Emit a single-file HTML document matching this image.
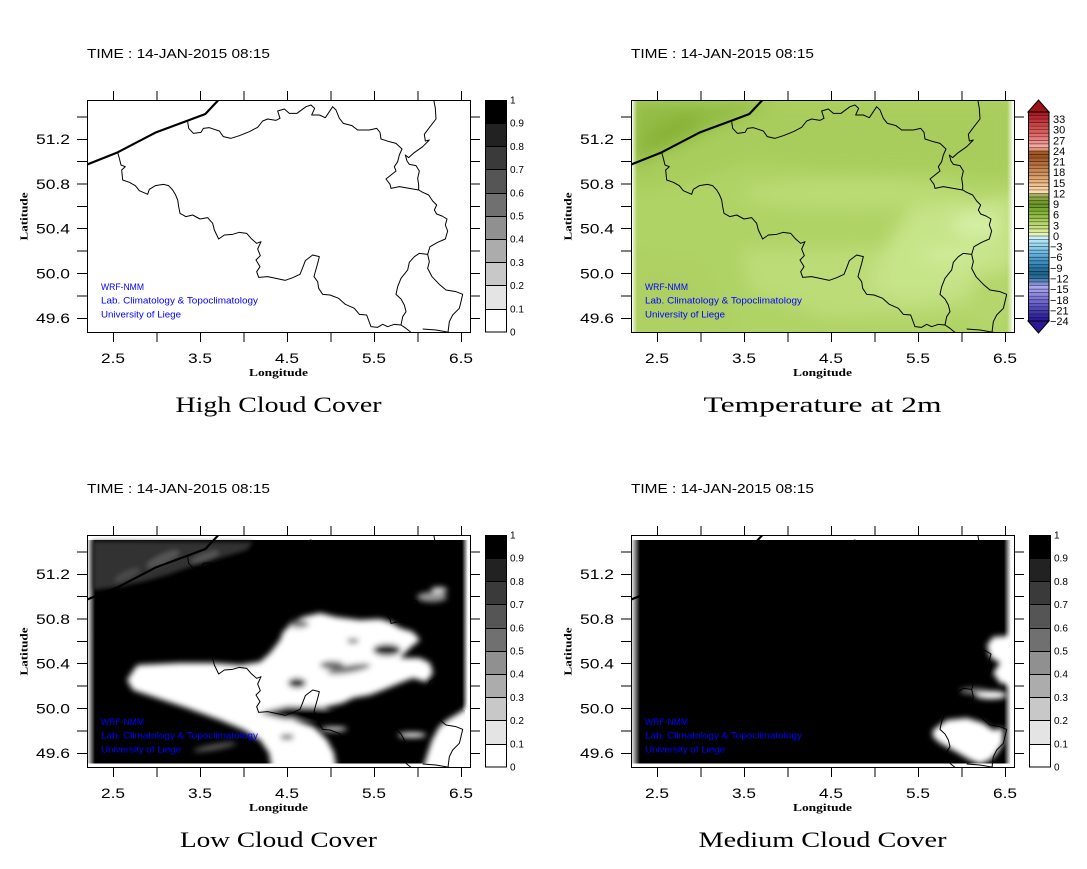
<!DOCTYPE html>
<html><head><meta charset="utf-8"><style>
html,body{margin:0;padding:0;background:#fff;}
svg{display:block;}
text{font-family:"Liberation Sans",sans-serif;fill:#000;}
.ser{font-family:"Liberation Serif",serif;}
.blue{fill:#0000ff;font-size:9.5px;}
</style></head><body>
<svg width="1087" height="869" viewBox="0 0 1087 869" xmlns="http://www.w3.org/2000/svg">
<defs>
<clipPath id="pc"><rect x="0" y="0" width="383" height="232"/></clipPath>
<filter id="b2" x="-30%" y="-30%" width="160%" height="160%"><feGaussianBlur stdDeviation="2"/></filter>
<filter id="b3" x="-30%" y="-30%" width="160%" height="160%"><feGaussianBlur stdDeviation="3"/></filter>
<filter id="b8" x="-30%" y="-30%" width="160%" height="160%"><feGaussianBlur stdDeviation="8"/></filter>
<linearGradient id="lgL" x1="0" x2="1" y1="0" y2="0"><stop offset="0" stop-color="#fff"/><stop offset="1" stop-color="#000"/></linearGradient>
<linearGradient id="lgR" x1="0" x2="1" y1="0" y2="0"><stop offset="0" stop-color="#000"/><stop offset="1" stop-color="#fff"/></linearGradient>
<linearGradient id="lgW" x1="0" x2="1" y1="0" y2="0"><stop offset="0" stop-color="#fff" stop-opacity="1"/><stop offset="1" stop-color="#fff" stop-opacity="0"/></linearGradient>
<linearGradient id="lgW2" x1="0" x2="1" y1="0" y2="0"><stop offset="0" stop-color="#fff" stop-opacity="0"/><stop offset="1" stop-color="#fff" stop-opacity="1"/></linearGradient>

<g id="borders" transform="translate(-11,-5) scale(0.333333)" fill="none" stroke="#000" stroke-linejoin="round">
<path stroke-width="6.5" d="M20,214 L125,172 L240,112 L340,75 L388,57 L434,8"/>
<path stroke-width="3" d="M125,172 L130,190 L135,210 L148,215 L137,225 L140,255 L160,262 L178,272 L190,287 L215,298 L220,283 L238,272 L262,268 L278,272 L290,285 L298,298 L305,315 L308,335 L312,355 L330,365 L350,360 L372,372 L395,368 L410,385 L415,405 L428,432 L445,420 L470,418 L490,412 L512,415 L525,430 L542,445 L555,440 L545,462 L553,482 L540,495 L552,515 L542,530 L548,547 L575,545 L600,550 L628,556 L650,548 L672,538 L680,518 L688,497 L710,480 L730,485 L725,505 L718,530 L714,545 L725,560 L728,580 L740,598 L762,600 L788,610 L808,628 L835,640 L850,658 L872,660 L885,695 L905,697 L920,688 L935,695 L955,688 L975,690 L990,700 L1005,712 L1010,722"/>
<path stroke-width="3" d="M975,690 L980,665 L990,650 L985,630 L975,612 L960,598 L965,575 L975,550 L995,525 L1000,502 L1015,485 L1030,475 L1055,478"/>
<path stroke-width="3" d="M1055,478 L1060,500 L1055,520 L1068,545 L1090,568 L1110,585 L1140,590 L1160,598 L1155,620 L1150,640 L1130,660 L1120,680 L1115,720"/>
<path stroke-width="3" d="M1040,702 L1080,705 L1120,712"/>
<path stroke-width="3" d="M1055,478 L1062,455 L1085,442 L1108,432 L1115,408 L1108,390 L1113,372 L1098,363 L1082,357 L1075,345 L1082,330 L1070,318 L1058,300 L1040,292 L1028,285"/>
<path stroke-width="3" d="M335,80 L338,100 L352,115 L375,112 L382,100 L400,98 L430,108 L442,125 L465,130 L490,122 L520,110 L545,97 L560,78 L575,72 L600,76 L612,70 L605,48 L625,42 L640,55 L663,55 L690,35 L705,30 L716,40 L707,60 L730,60 L748,68 L770,35 L780,45 L790,70 L802,85 L828,92 L845,105 L880,105 L902,100 L912,112 L915,132 L940,140 L960,145 L978,162 L970,180 L965,200 L955,215 L960,228 L945,240 L930,252 L942,268 L945,280 L970,275 L1000,280 L1028,285"/>
<path stroke-width="3" d="M1072,8 L1078,40 L1080,72 L1062,95 L1045,118 L1048,138 L1060,135 L1040,155 L1012,175 L998,188 L988,180 L993,198 L1000,208 L1020,212 L1030,228 L1025,250 L1028,270 L1028,285"/>
</g>

<path id="ticks" fill="none" stroke="#000" stroke-width="1" shape-rendering="crispEdges" d="M26.5,0V-9 M70,0V-9 M113.5,0V-9 M157,0V-9 M200.5,0V-9 M244,0V-9 M287.5,0V-9 M331,0V-9 M374.5,0V-9 M26.5,232V242 M70,232V242 M113.5,232V242 M157,232V242 M200.5,232V242 M244,232V242 M287.5,232V242 M331,232V242 M374.5,232V242 M0,17H-10 M0,39.5H-10 M0,61.5H-10 M0,84H-10 M0,106.5H-10 M0,128.5H-10 M0,151H-10 M0,173.5H-10 M0,196H-10 M0,218.5H-10 M383,17H393 M383,39.5H393 M383,61.5H393 M383,84H393 M383,106.5H393 M383,128.5H393 M383,151H393 M383,173.5H393 M383,196H393 M383,218.5H393"/>

<g id="gcb" shape-rendering="crispEdges">
<rect x="485" y="100" width="22" height="23.5" fill="#000"/>
<rect x="485" y="123.2" width="22" height="23.5" fill="#222"/>
<rect x="485" y="146.4" width="22" height="23.5" fill="#3a3a3a"/>
<rect x="485" y="169.6" width="22" height="23.5" fill="#555"/>
<rect x="485" y="192.8" width="22" height="23.5" fill="#707070"/>
<rect x="485" y="216" width="22" height="23.5" fill="#909090"/>
<rect x="485" y="239.2" width="22" height="23.5" fill="#acacac"/>
<rect x="485" y="262.4" width="22" height="23.5" fill="#c8c8c8"/>
<rect x="485" y="285.6" width="22" height="23.5" fill="#e4e4e4"/>
<rect x="485" y="308.8" width="22" height="23.2" fill="#fff"/>
<path fill="none" stroke="#000" stroke-width="1" d="M485,123.5H507 M485,146.5H507 M485,169.5H507 M485,193.5H507 M485,216.5H507 M485,239.5H507 M485,262.5H507 M485,285.5H507 M485,309.5H507"/>
<rect x="485.5" y="100.5" width="21" height="231.5" fill="none" stroke="#000" stroke-width="1"/>
</g>
</defs>

<!-- ================= PANEL 1 ================= -->
<g>
<text x="87" y="58" font-size="12.5" textLength="183" lengthAdjust="spacingAndGlyphs">TIME : 14-JAN-2015 08:15</text>
<g transform="translate(87,100)">
  <g clip-path="url(#pc)">
    <rect x="0" y="0" width="383" height="232" fill="#fff"/>
    <use href="#borders"/>
  </g>
  <rect x="0.5" y="0.5" width="383" height="232" fill="none" stroke="#000" stroke-width="1" shape-rendering="crispEdges"/>
  <use href="#ticks"/>
</g>
<text class="blue" x="101" y="290" textLength="43" lengthAdjust="spacingAndGlyphs">WRF-NMM</text>
<text class="blue" x="101" y="303.5" textLength="157" lengthAdjust="spacingAndGlyphs">Lab. Climatology &amp; Topoclimatology</text>
<text class="blue" x="101" y="317.5" textLength="80" lengthAdjust="spacingAndGlyphs">University of Liege</text>
<use href="#gcb"/>
<g font-size="10">
<text x="510" y="103.5">1</text><text x="510" y="126.7">0.9</text><text x="510" y="149.9">0.8</text><text x="510" y="173.1">0.7</text><text x="510" y="196.3">0.6</text><text x="510" y="219.5">0.5</text><text x="510" y="242.7">0.4</text><text x="510" y="265.9">0.3</text><text x="510" y="289.1">0.2</text><text x="510" y="312.3">0.1</text><text x="510" y="335.5">0</text>
</g>
<g font-size="14" text-anchor="middle">
<text x="113" y="363" textLength="24" lengthAdjust="spacingAndGlyphs">2.5</text>
<text x="200" y="363" textLength="24" lengthAdjust="spacingAndGlyphs">3.5</text>
<text x="287" y="363" textLength="24" lengthAdjust="spacingAndGlyphs">4.5</text>
<text x="374" y="363" textLength="24" lengthAdjust="spacingAndGlyphs">5.5</text>
<text x="461" y="363" textLength="24" lengthAdjust="spacingAndGlyphs">6.5</text>
</g>
<g font-size="14" text-anchor="end">
<text x="70" y="144" textLength="34" lengthAdjust="spacingAndGlyphs">51.2</text>
<text x="70" y="189" textLength="34" lengthAdjust="spacingAndGlyphs">50.8</text>
<text x="70" y="233.5" textLength="34" lengthAdjust="spacingAndGlyphs">50.4</text>
<text x="70" y="278.5" textLength="34" lengthAdjust="spacingAndGlyphs">50.0</text>
<text x="70" y="323" textLength="34" lengthAdjust="spacingAndGlyphs">49.6</text>
</g>
<text class="ser" transform="translate(27.5,216.5) rotate(-90)" x="0" y="0" font-size="10.5" font-weight="bold" text-anchor="middle" textLength="48" lengthAdjust="spacingAndGlyphs">Latitude</text>
<text class="ser" x="278.5" y="376" font-size="10.5" font-weight="bold" text-anchor="middle" textLength="59" lengthAdjust="spacingAndGlyphs">Longitude</text>
<text class="ser" x="278.5" y="412" font-size="22" text-anchor="middle" textLength="206" lengthAdjust="spacingAndGlyphs">High Cloud Cover</text>
</g>

<!-- ================= PANEL 2 ================= -->
<g transform="translate(544,0)">
<text x="87" y="58" font-size="12.5" textLength="183" lengthAdjust="spacingAndGlyphs">TIME : 14-JAN-2015 08:15</text>
<g transform="translate(87,100)">
  <g clip-path="url(#pc)">
    <rect x="0" y="0" width="383" height="232" fill="#fff"/>
    <rect x="2" y="1" width="379" height="231" fill="#b0d366"/>
    <g filter="url(#b8)">
      <path d="M0,0 L383,0 L383,78 L300,72 L200,70 L120,62 L60,82 L0,92 Z" fill="#a9cd5b"/>
      <path d="M0,0 L145,0 L100,22 L50,44 L0,70 Z" fill="#93bc44"/>
      <ellipse cx="40" cy="32" rx="34" ry="10" transform="rotate(-28 40 32)" fill="#86b236"/>
      <ellipse cx="225" cy="94" rx="115" ry="15" fill="#badb74"/>
      <path d="M110,150 L250,148 L330,160 L383,150 L383,200 L300,215 L200,218 L120,192 Z" fill="#bcdc78"/>
      <path d="M280,108 L383,95 L383,170 L330,192 L280,202 L240,190 L252,150 Z" fill="#c6e488"/>
      <ellipse cx="345" cy="125" rx="24" ry="12" fill="#d6efa6"/>
      <ellipse cx="318" cy="155" rx="30" ry="8" fill="#d0ec9a"/>
      <path d="M0,150 L70,160 L110,232 L0,232 Z" fill="#aed064"/>
      <path d="M345,175 L383,168 L383,232 L340,232 Z" fill="#b4d66c"/>
    </g>
    <rect x="0" y="0" width="6" height="232" fill="url(#lgW)"/>
    <rect x="376" y="0" width="7" height="232" fill="url(#lgW2)"/>
    <use href="#borders"/>
  </g>
  <rect x="0.5" y="0.5" width="383" height="232" fill="none" stroke="#000" stroke-width="1" shape-rendering="crispEdges"/>
  <use href="#ticks"/>
</g>
<text class="blue" x="101" y="290" textLength="43" lengthAdjust="spacingAndGlyphs">WRF-NMM</text>
<text class="blue" x="101" y="303.5" textLength="157" lengthAdjust="spacingAndGlyphs">Lab. Climatology &amp; Topoclimatology</text>
<text class="blue" x="101" y="317.5" textLength="80" lengthAdjust="spacingAndGlyphs">University of Liege</text>
<g font-size="14" text-anchor="middle">
<text x="113" y="363" textLength="24" lengthAdjust="spacingAndGlyphs">2.5</text>
<text x="200" y="363" textLength="24" lengthAdjust="spacingAndGlyphs">3.5</text>
<text x="287" y="363" textLength="24" lengthAdjust="spacingAndGlyphs">4.5</text>
<text x="374" y="363" textLength="24" lengthAdjust="spacingAndGlyphs">5.5</text>
<text x="461" y="363" textLength="24" lengthAdjust="spacingAndGlyphs">6.5</text>
</g>
<g font-size="14" text-anchor="end">
<text x="70" y="144" textLength="34" lengthAdjust="spacingAndGlyphs">51.2</text>
<text x="70" y="189" textLength="34" lengthAdjust="spacingAndGlyphs">50.8</text>
<text x="70" y="233.5" textLength="34" lengthAdjust="spacingAndGlyphs">50.4</text>
<text x="70" y="278.5" textLength="34" lengthAdjust="spacingAndGlyphs">50.0</text>
<text x="70" y="323" textLength="34" lengthAdjust="spacingAndGlyphs">49.6</text>
</g>
<text class="ser" transform="translate(27.5,216.5) rotate(-90)" x="0" y="0" font-size="10.5" font-weight="bold" text-anchor="middle" textLength="48" lengthAdjust="spacingAndGlyphs">Latitude</text>
<text class="ser" x="278.5" y="376" font-size="10.5" font-weight="bold" text-anchor="middle" textLength="59" lengthAdjust="spacingAndGlyphs">Longitude</text>
<text class="ser" x="278.5" y="412" font-size="22" text-anchor="middle" textLength="238" lengthAdjust="spacingAndGlyphs">Temperature at 2m</text>
</g>

<!-- temperature colorbar (absolute) -->
<g shape-rendering="crispEdges">
<rect x="1028" y="112.00" width="21" height="3.7" fill="#a81c28"/>
<rect x="1028" y="115.54" width="21" height="3.7" fill="#b42830"/>
<rect x="1028" y="119.08" width="21" height="3.7" fill="#c0343c"/>
<rect x="1028" y="122.63" width="21" height="3.7" fill="#c84448"/>
<rect x="1028" y="126.17" width="21" height="3.7" fill="#d05050"/>
<rect x="1028" y="129.71" width="21" height="3.7" fill="#d85c5c"/>
<rect x="1028" y="133.25" width="21" height="3.7" fill="#e06c6c"/>
<rect x="1028" y="136.80" width="21" height="3.7" fill="#e87c7c"/>
<rect x="1028" y="140.34" width="21" height="3.7" fill="#f09090"/>
<rect x="1028" y="143.88" width="21" height="3.7" fill="#f4a8a0"/>
<rect x="1028" y="147.42" width="21" height="3.7" fill="#dc9478"/>
<rect x="1028" y="150.97" width="21" height="3.7" fill="#a45a24"/>
<rect x="1028" y="154.51" width="21" height="3.7" fill="#9c5420"/>
<rect x="1028" y="158.05" width="21" height="3.7" fill="#a86030"/>
<rect x="1028" y="161.59" width="21" height="3.7" fill="#b46c3c"/>
<rect x="1028" y="165.14" width="21" height="3.7" fill="#be7a48"/>
<rect x="1028" y="168.68" width="21" height="3.7" fill="#c88854"/>
<rect x="1028" y="172.22" width="21" height="3.7" fill="#d49660"/>
<rect x="1028" y="175.76" width="21" height="3.7" fill="#dea46e"/>
<rect x="1028" y="179.31" width="21" height="3.7" fill="#e8b27c"/>
<rect x="1028" y="182.85" width="21" height="3.7" fill="#f0c08c"/>
<rect x="1028" y="186.39" width="21" height="3.7" fill="#f6d0a0"/>
<rect x="1028" y="189.93" width="21" height="3.7" fill="#fadcb0"/>
<rect x="1028" y="193.47" width="21" height="3.7" fill="#a4b060"/>
<rect x="1028" y="197.02" width="21" height="3.7" fill="#8ca440"/>
<rect x="1028" y="200.56" width="21" height="3.7" fill="#74982c"/>
<rect x="1028" y="204.10" width="21" height="3.7" fill="#6a9a28"/>
<rect x="1028" y="207.64" width="21" height="3.7" fill="#78a832"/>
<rect x="1028" y="211.19" width="21" height="3.7" fill="#88b43c"/>
<rect x="1028" y="214.73" width="21" height="3.7" fill="#98c04c"/>
<rect x="1028" y="218.27" width="21" height="3.7" fill="#a8ca5c"/>
<rect x="1028" y="221.81" width="21" height="3.7" fill="#b8d46c"/>
<rect x="1028" y="225.36" width="21" height="3.7" fill="#c8e080"/>
<rect x="1028" y="228.90" width="21" height="3.7" fill="#d8ea98"/>
<rect x="1028" y="232.44" width="21" height="3.7" fill="#e8f4b8"/>
<rect x="1028" y="235.98" width="21" height="3.7" fill="#c8f0fc"/>
<rect x="1028" y="239.53" width="21" height="3.7" fill="#b0e4f8"/>
<rect x="1028" y="243.07" width="21" height="3.7" fill="#98d8f0"/>
<rect x="1028" y="246.61" width="21" height="3.7" fill="#88ccec"/>
<rect x="1028" y="250.15" width="21" height="3.7" fill="#70bce4"/>
<rect x="1028" y="253.69" width="21" height="3.7" fill="#60acd8"/>
<rect x="1028" y="257.24" width="21" height="3.7" fill="#4c9ccc"/>
<rect x="1028" y="260.78" width="21" height="3.7" fill="#3c8cbc"/>
<rect x="1028" y="264.32" width="21" height="3.7" fill="#2c7cac"/>
<rect x="1028" y="267.86" width="21" height="3.7" fill="#24709c"/>
<rect x="1028" y="271.41" width="21" height="3.7" fill="#20648c"/>
<rect x="1028" y="274.95" width="21" height="3.7" fill="#2c6c98"/>
<rect x="1028" y="278.49" width="21" height="3.7" fill="#5080b8"/>
<rect x="1028" y="282.03" width="21" height="3.7" fill="#8090d0"/>
<rect x="1028" y="285.58" width="21" height="3.7" fill="#a8a8f0"/>
<rect x="1028" y="289.12" width="21" height="3.7" fill="#a098e8"/>
<rect x="1028" y="292.66" width="21" height="3.7" fill="#9088e0"/>
<rect x="1028" y="296.20" width="21" height="3.7" fill="#8078d8"/>
<rect x="1028" y="299.75" width="21" height="3.7" fill="#7068d0"/>
<rect x="1028" y="303.29" width="21" height="3.7" fill="#6058c0"/>
<rect x="1028" y="306.83" width="21" height="3.7" fill="#5048b4"/>
<rect x="1028" y="310.37" width="21" height="3.7" fill="#4038a8"/>
<rect x="1028" y="313.92" width="21" height="3.7" fill="#3428a0"/>
<rect x="1028" y="317.46" width="21" height="3.54" fill="#2c1c98"/>
</g>
<path fill="none" stroke="#000" stroke-opacity="0.55" stroke-width="0.7" d="M1028,115.54H1049 M1028,119.08H1049 M1028,122.63H1049 M1028,126.17H1049 M1028,129.71H1049 M1028,133.25H1049 M1028,136.80H1049 M1028,140.34H1049 M1028,143.88H1049 M1028,147.42H1049 M1028,150.97H1049 M1028,154.51H1049 M1028,158.05H1049 M1028,161.59H1049 M1028,165.14H1049 M1028,168.68H1049 M1028,172.22H1049 M1028,175.76H1049 M1028,179.31H1049 M1028,182.85H1049 M1028,186.39H1049 M1028,189.93H1049 M1028,193.47H1049 M1028,197.02H1049 M1028,200.56H1049 M1028,204.10H1049 M1028,207.64H1049 M1028,211.19H1049 M1028,214.73H1049 M1028,218.27H1049 M1028,221.81H1049 M1028,225.36H1049 M1028,228.90H1049 M1028,232.44H1049 M1028,235.98H1049 M1028,239.53H1049 M1028,243.07H1049 M1028,246.61H1049 M1028,250.15H1049 M1028,253.69H1049 M1028,257.24H1049 M1028,260.78H1049 M1028,264.32H1049 M1028,267.86H1049 M1028,271.41H1049 M1028,274.95H1049 M1028,278.49H1049 M1028,282.03H1049 M1028,285.58H1049 M1028,289.12H1049 M1028,292.66H1049 M1028,296.20H1049 M1028,299.75H1049 M1028,303.29H1049 M1028,306.83H1049 M1028,310.37H1049 M1028,313.92H1049 M1028,317.46H1049"/>
<polygon points="1028,112 1038.5,100 1049,112" fill="#9c1418" stroke="#000" stroke-width="1"/>
<polygon points="1028,321 1038.5,333 1049,321" fill="#2a1898" stroke="#000" stroke-width="1"/>
<rect x="1028.5" y="112" width="20.5" height="209" fill="none" stroke="#000" stroke-width="1"/>
<g font-size="11">
<text x="1053" y="123">33</text>
<text x="1053" y="133.7">30</text>
<text x="1053" y="144.3">27</text>
<text x="1053" y="155">24</text>
<text x="1053" y="165.6">21</text>
<text x="1053" y="176.2">18</text>
<text x="1053" y="186.9">15</text>
<text x="1053" y="197.5">12</text>
<text x="1053" y="208.1">9</text>
<text x="1053" y="218.7">6</text>
<text x="1053" y="229.4">3</text>
<text x="1053" y="240">0</text>
<text x="1050" y="250.6">−3</text>
<text x="1050" y="261.2">−6</text>
<text x="1050" y="271.9">−9</text>
<text x="1050" y="282.5">−12</text>
<text x="1050" y="293.1">−15</text>
<text x="1050" y="303.8">−18</text>
<text x="1050" y="314.4">−21</text>
<text x="1050" y="325">−24</text>
</g>

<!-- ================= PANEL 3 ================= -->
<g transform="translate(0,435)">
<text x="87" y="58" font-size="12.5" textLength="183" lengthAdjust="spacingAndGlyphs">TIME : 14-JAN-2015 08:15</text>
<g transform="translate(87,100)">
  <g clip-path="url(#pc)">
    <rect x="0" y="0" width="383" height="232" fill="#fff"/>
    <rect x="5" y="5" width="373" height="223.5" fill="#000"/>
    <rect x="0" y="5" width="8" height="223.5" fill="url(#lgL)"/>
    <rect x="375" y="5" width="6" height="170" fill="url(#lgR)"/>
    <g filter="url(#b2)">
      <path d="M6,6 L166,7 L160,15 L130,24 L103,32 L80,40 L59,46 L30,52 L6,55 Z" fill="#333"/>
      <ellipse cx="76" cy="24" rx="18" ry="5" transform="rotate(-25 76 24)" fill="#555"/>
      <ellipse cx="118" cy="22" rx="15" ry="4" transform="rotate(-20 118 22)" fill="#555"/>
      <ellipse cx="40" cy="40" rx="14" ry="4" transform="rotate(-25 40 40)" fill="#4a4a4a"/>
    </g>
    <g filter="url(#b3)">
      <path fill="#fff" d="M51,130 L93,128 L126,128 L153,130 L173,127 L183,118 L193,105 L196,97 L206,87 L216,82 L233,78 L249,82 L273,85 L293,84 L303,87 L313,93 L326,97 L333,105 L323,113 L313,123 L333,123 L343,128 L346,138 L339,147 L326,143 L313,148 L296,155 L283,160 L266,163 L256,168 L239,172 L226,177 L213,180 L207,185 L227,192 L240,205 L247,218 L250,236 L185,236 L182,218 L173,205 L157,195 L133,185 L100,173 L67,162 L46,155 L40,145 L48,133 Z"/>
      <path fill="#000" d="M172,178 L200,171 L235,172 L248,180 L222,185 L196,184 Z"/>
      <ellipse cx="210" cy="148" rx="9" ry="5" fill="#222"/>
      <ellipse cx="262" cy="134" rx="22" ry="4" transform="rotate(-10 262 134)" fill="#777"/>
      <ellipse cx="266" cy="106" rx="6" ry="3" fill="#888"/>
      <ellipse cx="300" cy="115" rx="14" ry="6" fill="#222"/>
      <ellipse cx="212" cy="89" rx="10" ry="4" fill="#777"/>
      <ellipse cx="245" cy="130" rx="12" ry="4" fill="#666"/>
      <ellipse cx="200" cy="202" rx="7" ry="3" fill="#777"/>
      <ellipse cx="247" cy="194" rx="13" ry="2" fill="#fff"/>
      <ellipse cx="325" cy="200" rx="14" ry="2.5" fill="#fff"/>
      <ellipse cx="128" cy="212" rx="22" ry="2.5" transform="rotate(-10 128 212)" fill="#666"/>
      <path fill="#fff" d="M386,168 L372,178 L360,185 L352,192 L345,205 L340,220 L335,236 L386,236 Z"/>
      <ellipse cx="345" cy="62" rx="15" ry="5" fill="#999"/>
      <ellipse cx="352" cy="55" rx="8" ry="3" fill="#ddd"/>
    </g>
    <use href="#borders"/>
  </g>
  <rect x="0.5" y="0.5" width="383" height="232" fill="none" stroke="#000" stroke-width="1" shape-rendering="crispEdges"/>
  <use href="#ticks"/>
</g>
<text class="blue" x="101" y="290" textLength="43" lengthAdjust="spacingAndGlyphs">WRF-NMM</text>
<text class="blue" x="101" y="303.5" textLength="157" lengthAdjust="spacingAndGlyphs">Lab. Climatology &amp; Topoclimatology</text>
<text class="blue" x="101" y="317.5" textLength="80" lengthAdjust="spacingAndGlyphs">University of Liege</text>
<use href="#gcb"/>
<g font-size="10">
<text x="510" y="103.5">1</text><text x="510" y="126.7">0.9</text><text x="510" y="149.9">0.8</text><text x="510" y="173.1">0.7</text><text x="510" y="196.3">0.6</text><text x="510" y="219.5">0.5</text><text x="510" y="242.7">0.4</text><text x="510" y="265.9">0.3</text><text x="510" y="289.1">0.2</text><text x="510" y="312.3">0.1</text><text x="510" y="335.5">0</text>
</g>
<g font-size="14" text-anchor="middle">
<text x="113" y="363" textLength="24" lengthAdjust="spacingAndGlyphs">2.5</text>
<text x="200" y="363" textLength="24" lengthAdjust="spacingAndGlyphs">3.5</text>
<text x="287" y="363" textLength="24" lengthAdjust="spacingAndGlyphs">4.5</text>
<text x="374" y="363" textLength="24" lengthAdjust="spacingAndGlyphs">5.5</text>
<text x="461" y="363" textLength="24" lengthAdjust="spacingAndGlyphs">6.5</text>
</g>
<g font-size="14" text-anchor="end">
<text x="70" y="144" textLength="34" lengthAdjust="spacingAndGlyphs">51.2</text>
<text x="70" y="189" textLength="34" lengthAdjust="spacingAndGlyphs">50.8</text>
<text x="70" y="233.5" textLength="34" lengthAdjust="spacingAndGlyphs">50.4</text>
<text x="70" y="278.5" textLength="34" lengthAdjust="spacingAndGlyphs">50.0</text>
<text x="70" y="323" textLength="34" lengthAdjust="spacingAndGlyphs">49.6</text>
</g>
<text class="ser" transform="translate(27.5,216.5) rotate(-90)" x="0" y="0" font-size="10.5" font-weight="bold" text-anchor="middle" textLength="48" lengthAdjust="spacingAndGlyphs">Latitude</text>
<text class="ser" x="278.5" y="376" font-size="10.5" font-weight="bold" text-anchor="middle" textLength="59" lengthAdjust="spacingAndGlyphs">Longitude</text>
<text class="ser" x="278.5" y="412" font-size="22" text-anchor="middle" textLength="197" lengthAdjust="spacingAndGlyphs">Low Cloud Cover</text>
</g>

<!-- ================= PANEL 4 ================= -->
<g transform="translate(544,435)">
<text x="87" y="58" font-size="12.5" textLength="183" lengthAdjust="spacingAndGlyphs">TIME : 14-JAN-2015 08:15</text>
<g transform="translate(87,100)">
  <g clip-path="url(#pc)">
    <rect x="0" y="0" width="383" height="232" fill="#fff"/>
    <rect x="4" y="5" width="374" height="223.5" fill="#000"/>
    <rect x="0" y="5" width="9" height="223.5" fill="url(#lgL)"/>
    <rect x="373" y="5" width="7" height="223.5" fill="url(#lgR)"/>
    <g filter="url(#b3)">
      <path fill="#fff" d="M362,102 L386,100 L386,152 L369,148 L362,138 L369,128 L359,122 L356,110 Z"/>
      <ellipse cx="360" cy="160" rx="16" ry="4" fill="#fff"/>
      <ellipse cx="343" cy="156" rx="14" ry="3" fill="#888"/>
      <path fill="#fff" d="M302,195 L316,185 L336,183 L352,188 L362,195 L372,193 L372,208 L366,218 L359,225 L349,229 L339,225 L322,215 L309,208 L302,202 Z"/>
    </g>
    <use href="#borders"/>
  </g>
  <rect x="0.5" y="0.5" width="383" height="232" fill="none" stroke="#000" stroke-width="1" shape-rendering="crispEdges"/>
  <use href="#ticks"/>
</g>
<text class="blue" x="101" y="290" textLength="43" lengthAdjust="spacingAndGlyphs">WRF-NMM</text>
<text class="blue" x="101" y="303.5" textLength="157" lengthAdjust="spacingAndGlyphs">Lab. Climatology &amp; Topoclimatology</text>
<text class="blue" x="101" y="317.5" textLength="80" lengthAdjust="spacingAndGlyphs">University of Liege</text>
<use href="#gcb"/>
<g font-size="10">
<text x="510" y="103.5">1</text><text x="510" y="126.7">0.9</text><text x="510" y="149.9">0.8</text><text x="510" y="173.1">0.7</text><text x="510" y="196.3">0.6</text><text x="510" y="219.5">0.5</text><text x="510" y="242.7">0.4</text><text x="510" y="265.9">0.3</text><text x="510" y="289.1">0.2</text><text x="510" y="312.3">0.1</text><text x="510" y="335.5">0</text>
</g>
<g font-size="14" text-anchor="middle">
<text x="113" y="363" textLength="24" lengthAdjust="spacingAndGlyphs">2.5</text>
<text x="200" y="363" textLength="24" lengthAdjust="spacingAndGlyphs">3.5</text>
<text x="287" y="363" textLength="24" lengthAdjust="spacingAndGlyphs">4.5</text>
<text x="374" y="363" textLength="24" lengthAdjust="spacingAndGlyphs">5.5</text>
<text x="461" y="363" textLength="24" lengthAdjust="spacingAndGlyphs">6.5</text>
</g>
<g font-size="14" text-anchor="end">
<text x="70" y="144" textLength="34" lengthAdjust="spacingAndGlyphs">51.2</text>
<text x="70" y="189" textLength="34" lengthAdjust="spacingAndGlyphs">50.8</text>
<text x="70" y="233.5" textLength="34" lengthAdjust="spacingAndGlyphs">50.4</text>
<text x="70" y="278.5" textLength="34" lengthAdjust="spacingAndGlyphs">50.0</text>
<text x="70" y="323" textLength="34" lengthAdjust="spacingAndGlyphs">49.6</text>
</g>
<text class="ser" transform="translate(27.5,216.5) rotate(-90)" x="0" y="0" font-size="10.5" font-weight="bold" text-anchor="middle" textLength="48" lengthAdjust="spacingAndGlyphs">Latitude</text>
<text class="ser" x="278.5" y="376" font-size="10.5" font-weight="bold" text-anchor="middle" textLength="59" lengthAdjust="spacingAndGlyphs">Longitude</text>
<text class="ser" x="278.5" y="412" font-size="22" text-anchor="middle" textLength="248" lengthAdjust="spacingAndGlyphs">Medium Cloud Cover</text>
</g>
</svg>
</body></html>
